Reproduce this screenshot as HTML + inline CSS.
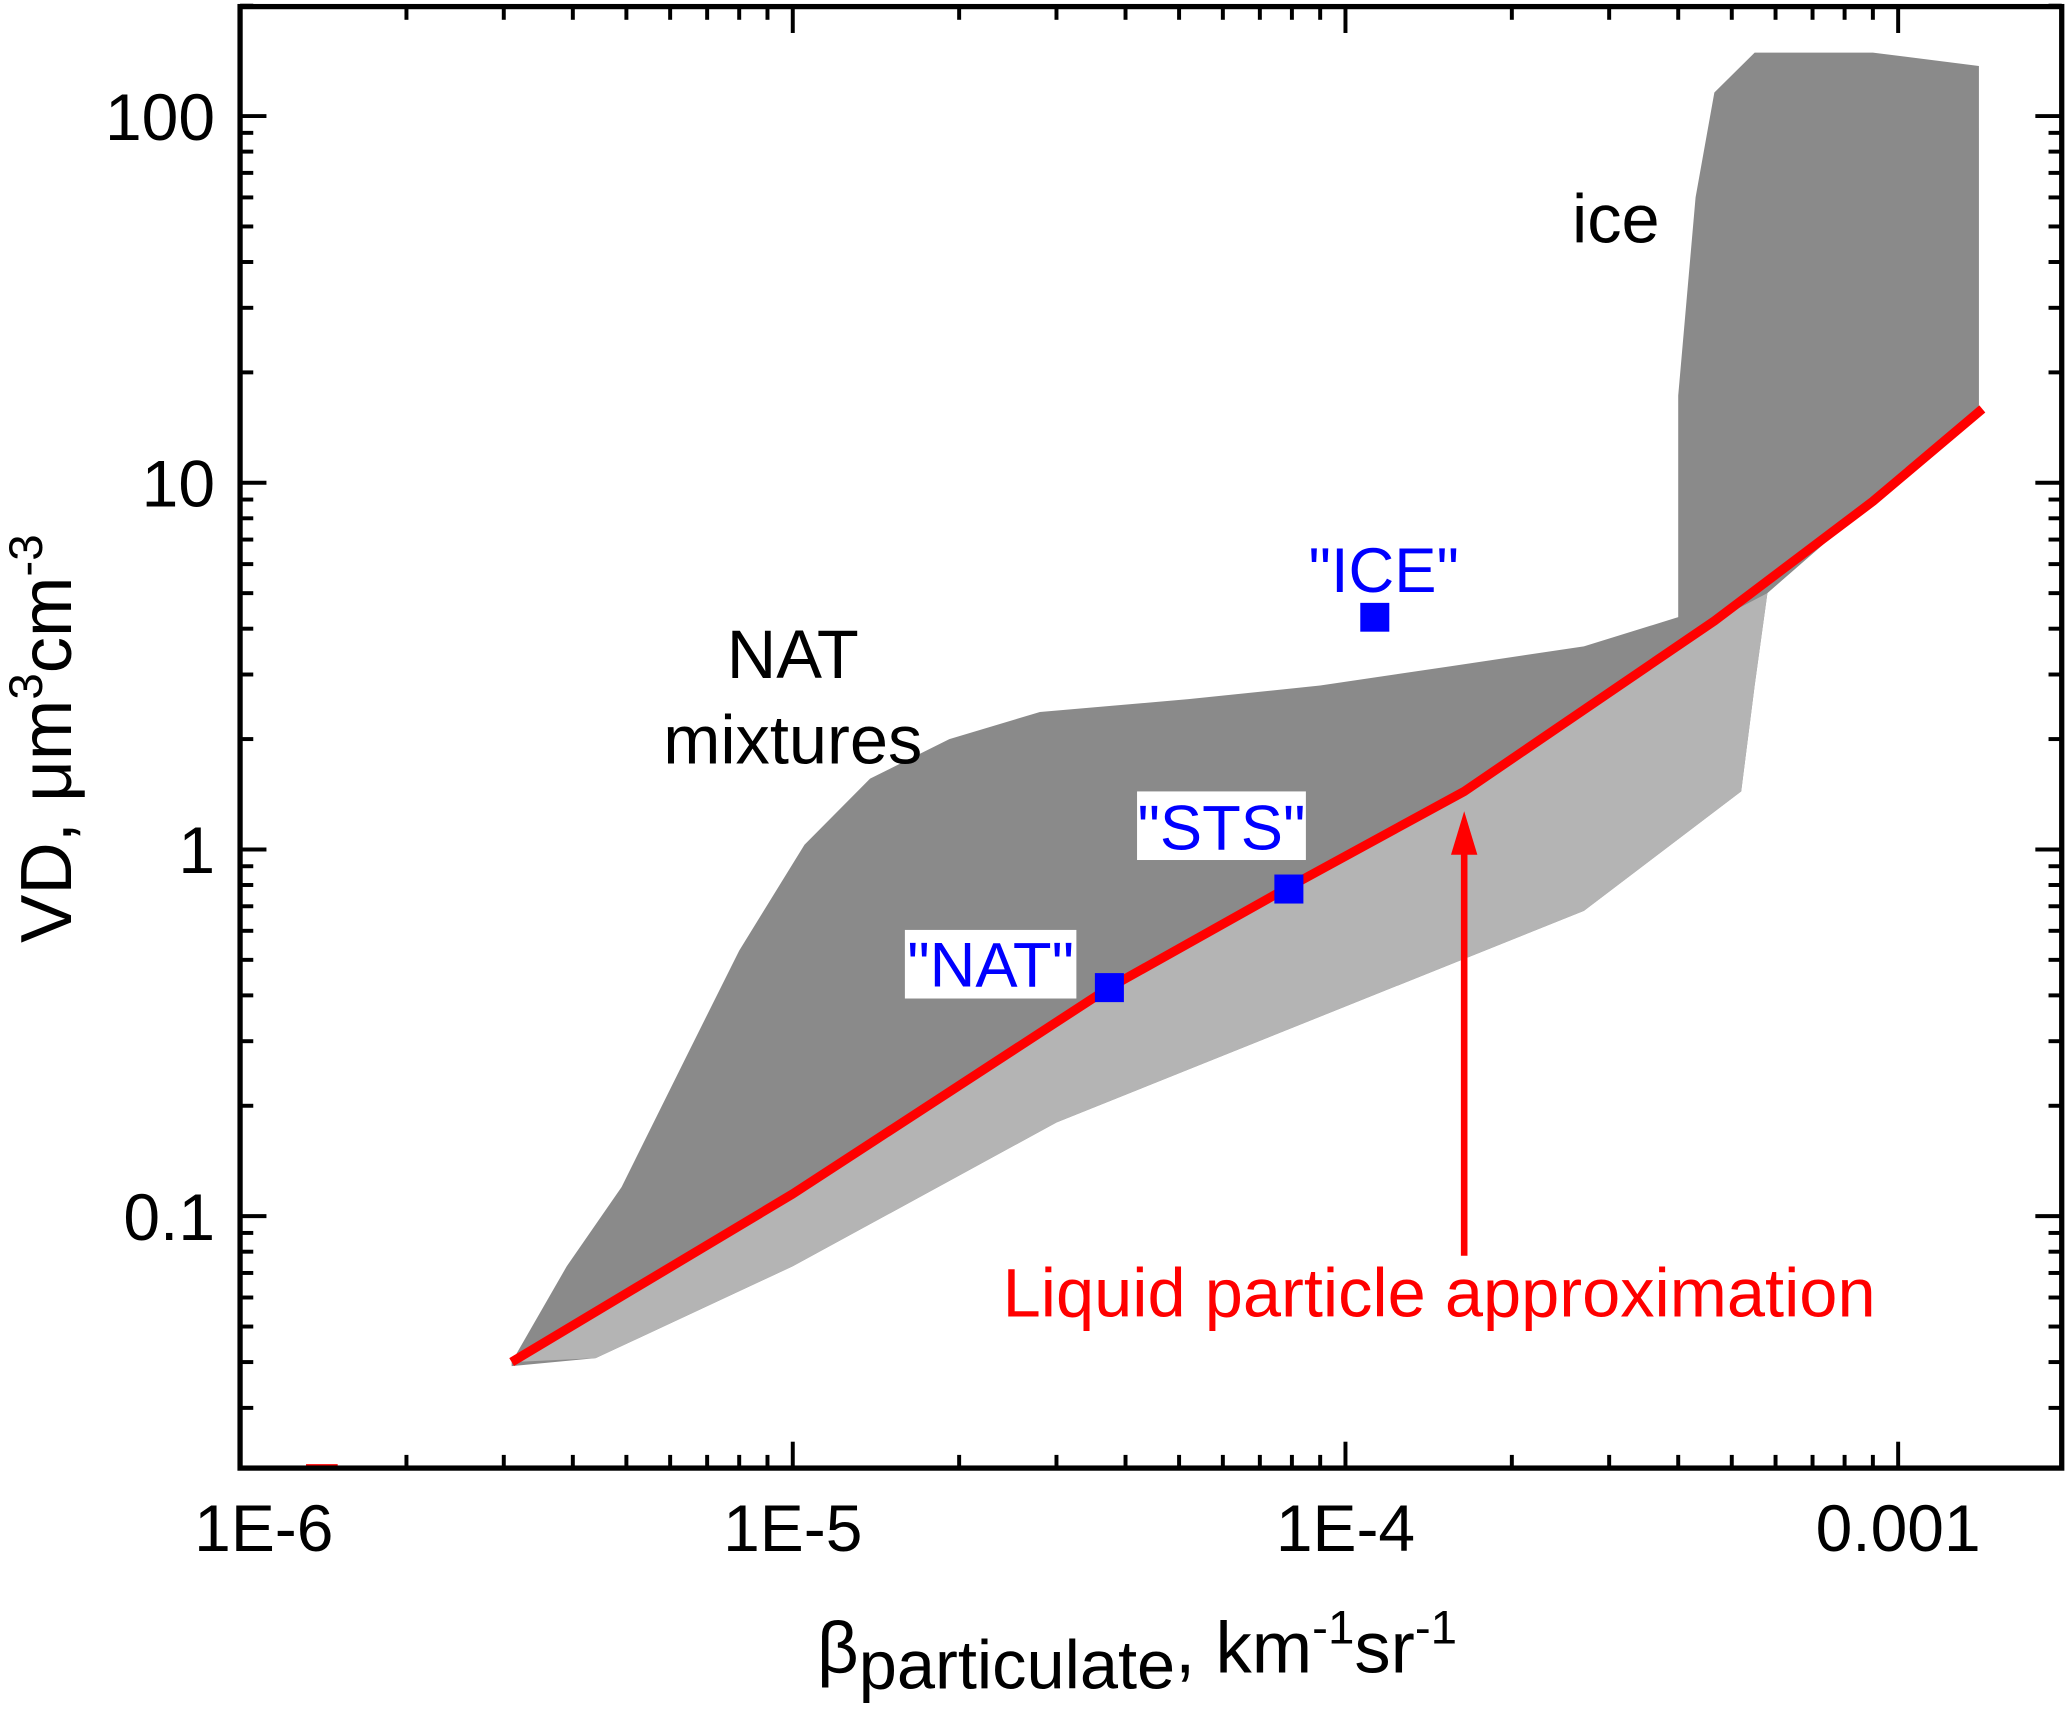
<!DOCTYPE html>
<html><head><meta charset="utf-8"><style>
html,body{margin:0;padding:0;background:#fff;}
svg{display:block;font-family:"Liberation Sans",Arial,sans-serif;}
</style></head><body>
<svg id="chart" width="2067" height="1710" viewBox="0 0 1567 1296.4" preserveAspectRatio="none" xmlns="http://www.w3.org/2000/svg">
<g id="plot"></g>
</svg>
<script>
// ---- data ----
const cloudX = [3.1e-6,3.9e-6,4.9e-6,6.4e-6,8.0e-6,1.05e-5,1.38e-5,1.92e-5,2.8e-5,5.2e-5,9.0e-5,1.55e-4,2.7e-4,4.0e-4,4.0e-4,4.3e-4,4.65e-4,5.5e-4,9.0e-4,1.4e-3,1.4e-3,5.8e-4,5.5e-4,5.2e-4,2.7e-4,9.0e-5,3.0e-5,1.0e-5,4.4e-6,3.1e-6];
const cloudY = [0.040,0.073,0.12,0.27,0.53,1.03,1.56,2.0,2.37,2.57,2.8,3.16,3.58,4.3,17.3,60,116,149,149,137,15.9,5.0,2.8,1.44,0.68,0.35,0.18,0.073,0.041,0.039];
const lowerX = [3.1e-6,1.0e-5,3.74e-5,7.9e-5,1.64e-4,4.65e-4,5.8e-4,5.5e-4,5.2e-4,2.7e-4,9.0e-5,3.0e-5,1.0e-5,4.4e-6];
const lowerY = [0.040,0.115,0.42,0.79,1.44,4.2,5.0,2.8,1.44,0.68,0.35,0.18,0.073,0.041];
const lineX = [3.1e-6,1.0e-5,3.74e-5,7.9e-5,1.64e-4,4.65e-4,9.0e-4,1.42e-3];
const lineY = [0.040,0.115,0.42,0.79,1.44,4.2,8.9,15.9];
const pointNames = ['NAT','STS','ICE'];
const pointX = [3.74e-5,7.9e-5,1.13e-4];
const pointY = [0.42,0.78,4.3];
const xTickVals = [1e-6,1e-5,1e-4,1e-3];
const xTickLabels = ['1E-6','1E-5','1E-4','0.001'];
const yTickVals = [0.1,1,10,100];
const yTickLabels = ['0.1','1','10','100'];

// ---- axes ----
const L=182,R=1563,T=5,B=1113;
const X0=-6, XD=419, Y0=2, YPX=88, YD=278;
function sx(v){return L+(Math.log10(v)-X0)*XD;}
function sy(v){return YPX+(Y0-Math.log10(v))*YD;}
const NS='http://www.w3.org/2000/svg';
const g=document.getElementById('plot');
function mk(tag,attrs,parent){const e=document.createElementNS(NS,tag);for(const k in attrs)e.setAttribute(k,attrs[k]);(parent||g).appendChild(e);return e;}

const defs=mk('defs',{});
const cp=mk('clipPath',{id:'clip'},defs);
mk('rect',{x:L,y:T,width:R-L,height:B-T},cp);
const dg=mk('g',{'clip-path':'url(#clip)'});

const cloud=mk('polygon',{points:cloudX.map((x,i)=>sx(x)+','+sy(cloudY[i])).join(' '),fill:'#8a8a8a'},dg);


const lower=mk('polygon',{points:lowerX.map((x,i)=>sx(x)+','+sy(lowerY[i])).join(' '),fill:'#b4b4b4'},dg);



const line=mk('polyline',{points:lineX.map((x,i)=>sx(x)+','+sy(lineY[i])).join(' '),fill:'none',stroke:'#ff0000','stroke-width':7,'stroke-linejoin':'round'},dg);



mk('rect',{x:232,y:1110,width:24,height:4,fill:'#ff0000'});

pointX.forEach((x,i)=>{
  const r=mk('rect',{x:sx(x)-11,y:sy(pointY[i])-11,width:22,height:22,fill:'#0000ff'},dg);
  
  
});

const frame=mk('rect',{x:L,y:T,width:R-L,height:B-T,fill:'none',stroke:'#000','stroke-width':4});



const xt=mk('g',{stroke:'#000','stroke-width':3});


for(let d=-6;d<=-3;d++){for(let m=1;m<=9;m++){const v=m*Math.pow(10,d);const p=sx(v);if(p<L-1||p>R+1)continue;const len=m===1?20:10;mk('line',{x1:p,x2:p,y1:B,y2:B-len},xt);mk('line',{x1:p,x2:p,y1:T,y2:T+len},xt);}}
const yt=mk('g',{stroke:'#000','stroke-width':3});


for(let d=-2;d<=2;d++){for(let m=1;m<=9;m++){const v=m*Math.pow(10,d);const p=sy(v);if(p<T-1||p>B+1)continue;const len=m===1?20:10;mk('line',{y1:p,y2:p,x1:L,x2:L+len},yt);mk('line',{y1:p,y2:p,x1:R,x2:R-len},yt);}}

xTickVals.forEach((v,i)=>{const t=mk('text',{x:sx(v)+(i===0?18:0),y:1176,'text-anchor':'middle','font-size':50,fill:'#000'});t.textContent=xTickLabels[i];

});
yTickVals.forEach((v,i)=>{const t=mk('text',{x:163,y:sy(v)+18,'text-anchor':'end','font-size':50,fill:'#000'});t.textContent=yTickLabels[i];

});
</script>
<svg style="position:absolute;left:0;top:0" width="2067" height="1710" viewBox="0 0 1567 1296.4" preserveAspectRatio="none" xmlns="http://www.w3.org/2000/svg" font-family="Liberation Sans, Arial, sans-serif">
<text x="862" y="1268" text-anchor="middle" font-size="55" fill="#000">β<tspan font-size="52" dy="12">particulate</tspan><tspan dy="-12">, km</tspan><tspan font-size="36" dy="-22">-1</tspan><tspan dy="22">sr</tspan><tspan font-size="36" dy="-22">-1</tspan></text>
<text transform="translate(54,560) rotate(-90)" text-anchor="middle" font-size="55" fill="#000">VD, μm<tspan font-size="36" dy="-22">3</tspan><tspan dy="22">cm</tspan><tspan font-size="36" dy="-22">-3</tspan></text>
<text x="1225" y="184" text-anchor="middle" font-size="52" fill="#000">ice</text>
<text x="601" y="514" text-anchor="middle" font-size="52" fill="#000">NAT</text>
<text x="601" y="579" text-anchor="middle" font-size="52" fill="#000">mixtures</text>
<rect x="993" y="405" width="112" height="52" fill="#fff"/>
<text x="1049" y="449" text-anchor="middle" font-size="48" fill="#0000ff">"ICE"</text>
<rect x="862" y="600" width="128" height="52" fill="#fff"/>
<text x="926" y="644" text-anchor="middle" font-size="48" fill="#0000ff">"STS"</text>
<rect x="686" y="705" width="130" height="52" fill="#fff"/>
<text x="751" y="748" text-anchor="middle" font-size="48" fill="#0000ff">"NAT"</text>
<line x1="1110" y1="952" x2="1110" y2="645" stroke="#ff0000" stroke-width="5"/>
<polygon points="1110,615 1100,648 1120,648" fill="#ff0000"/>
<text x="1091" y="998" text-anchor="middle" font-size="52" fill="#ff0000">Liquid particle approximation</text>
</svg>
</body></html>
